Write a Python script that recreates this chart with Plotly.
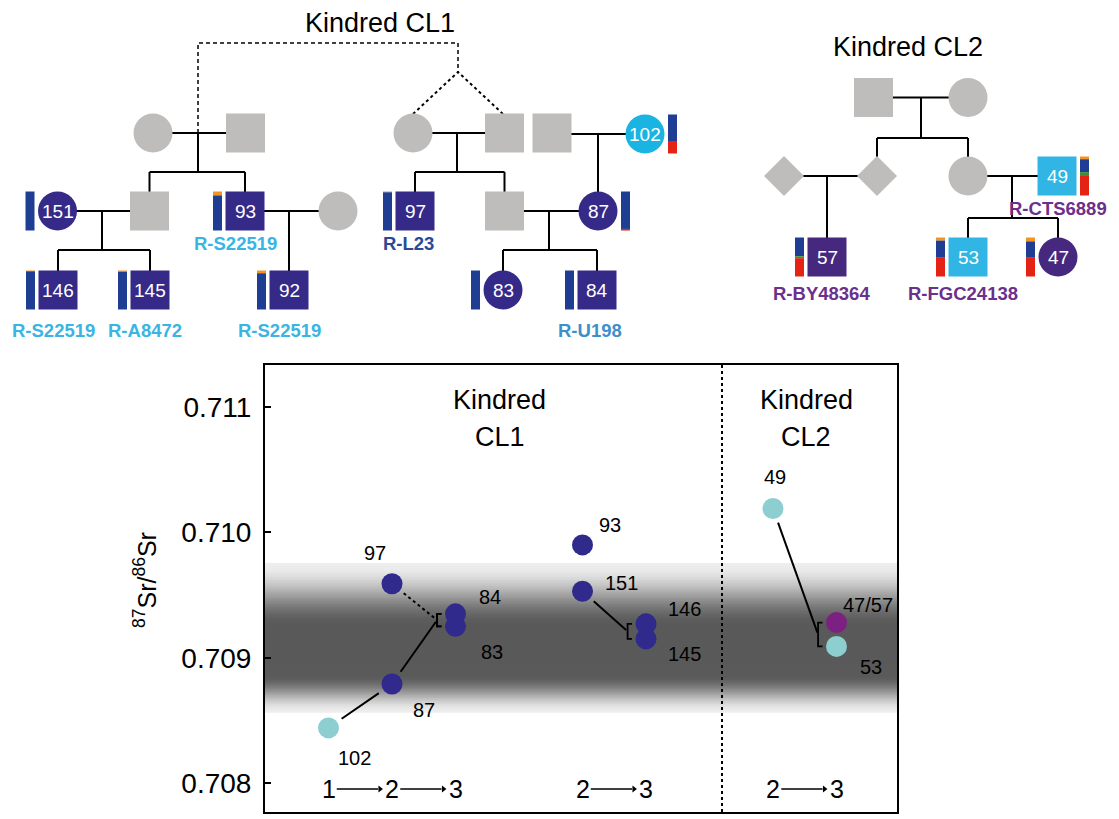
import math
import plotly.graph_objects as go

# page body has an 8px margin: figure pixel = screen pixel - OFF
OFF = 8
SW, SH = 1119, 819
W, H = SW - OFF, SH - OFF

# ---------------- data: 87Sr/86Sr ratios ----------------
sr_ids = ["102", "87", "97", "84", "83", "93", "151", "146", "145", "49", "47/57", "53"]
sr_group = [0, 0, 0, 0, 0, 1, 1, 1, 1, 2, 2, 2]
sr_generation = [1, 2, 2, 3, 3, 2, 2, 3, 3, 2, 3, 3]
sr_values = [0.70844, 0.70879, 0.70959, 0.70935, 0.70925, 0.70990,
             0.70953, 0.70927, 0.70915, 0.71019, 0.70928, 0.70909]
sr_class = ["pale", "cl1", "cl1", "cl1", "cl1", "cl1", "cl1", "cl1", "cl1", "pale", "cl2", "pale"]

# parent -> offspring links (offspring pairs are bracketed)
link_from = ["102", "87", "97", "151", "49"]
link_to = [["87"], ["84", "83"], ["84", "83"], ["146", "145"], ["47/57", "53"]]
link_dash = ["solid", "solid", "dot", "solid", "solid"]

# local bioavailable strontium band
band_low, band_core_low, band_core_high, band_high = 0.70856, 0.70886, 0.70926, 0.70975

y_ticks = [0.708, 0.709, 0.710, 0.711]
group_generations = [[1, 2, 3], [2, 3], [2, 3]]
kindred_titles = ["Kindred CL1", "Kindred CL2"]

# ---------------- data: pedigree ancestry / haplogroups ----------------
anc_ids = ["151", "146", "145", "93", "92", "97", "87", "83", "84", "102", "49", "57", "53", "47"]
anc_orange = [0.00, 0.02, 0.03, 0.10, 0.07, 0.02, 0.00, 0.00, 0.00, 0.00, 0.07, 0.00, 0.08, 0.10]
anc_blue = [1.00, 0.98, 0.97, 0.90, 0.93, 0.98, 0.96, 1.00, 1.00, 0.68, 0.33, 0.48, 0.44, 0.42]
anc_green = [0.00, 0.00, 0.00, 0.00, 0.00, 0.00, 0.00, 0.00, 0.00, 0.00, 0.10, 0.05, 0.00, 0.00]
anc_red = [0.00, 0.00, 0.00, 0.00, 0.00, 0.00, 0.04, 0.00, 0.00, 0.32, 0.50, 0.47, 0.48, 0.48]

hg_ids = ["93", "146", "145", "92", "97", "84", "49", "57", "53"]
hg_names = ["R-S22519", "R-S22519", "R-A8472", "R-S22519", "R-L23", "R-U198",
            "R-CTS6889", "R-BY48364", "R-FGC24138"]

# ---------------- styles ----------------
FONT = "Liberation Sans, Arial, Helvetica, sans-serif"
GRAY = "#bebdbb"
POINT_COL = {"cl1": "#2f2a8c", "pale": "#8dced1", "cl2": "#7c2082"}
NODE_COL = {"gray": GRAY, "p1": "#352a87", "p2": "#46297f", "cy": "#1ab4e2", "lb": "#30b5e4"}
ANC_COL = {"orange": "#f39322", "blue": "#1f3e93", "green": "#3f8f3a", "red": "#e42314"}
HG_COL = {"R-S22519": "#3ab5e3", "R-A8472": "#3ab5e3", "R-L23": "#2b4a95", "R-U198": "#3d8fcc",
          "R-CTS6889": "#6b2f8c", "R-BY48364": "#6b2f8c", "R-FGC24138": "#6b2f8c"}

# main plot geometry (screen pixels)
PX0, PX1, PY0, PY1 = 265, 897, 365, 812
X_UNIT = 63.5
XMAX = (PX1 - PX0) / X_UNIT
Y_PER = 125350.0
YMAX = 0.711 + (407 - PY0) / Y_PER
YMIN = YMAX - (PY1 - PY0) / Y_PER

fig = go.Figure()

# ---------------- band gradient ----------------
def smooth(t):
    t = min(max(t, 0.0), 1.0)
    return t * t * (3 - 2 * t)

N = 100
step = (band_high - band_low) / N
for k in range(N):
    lo = band_low + k * step
    mid = lo + step / 2
    if mid > band_core_high:
        t = (mid - band_core_high) / (band_high - band_core_high)
    elif mid < band_core_low:
        t = (band_core_low - mid) / (band_core_low - band_low)
    else:
        t = 0.0
    g = int(round(90 + (238 - 90) * smooth(t)))
    top = lo + step * (2.5 if k < N - 1 else 1.0)
    fig.add_shape(type="rect", xref="x", yref="y", x0=0, x1=XMAX, y0=lo, y1=top,
                  fillcolor=f"rgb({g},{g},{g})", line=dict(width=0), layer="below")

# ---------------- main scatter ----------------
sr_x = [3 * g + n for g, n in zip(sr_group, sr_generation)]
pos = {i: (x, v) for i, x, v in zip(sr_ids, sr_x, sr_values)}

def seg(x0, y0, x1, y1, g0, g1):
    dx, dy = (x1 - x0) * X_UNIT, (y1 - y0) * Y_PER
    L = math.hypot(dx, dy)
    ux, uy = dx / L, dy / L
    return ([x0 + ux * g0 / X_UNIT, x1 - ux * g1 / X_UNIT],
            [y0 + uy * g0 / Y_PER, y1 - uy * g1 / Y_PER])

BR_OFF = 0.29
for src, dst, dash in zip(link_from, link_to, link_dash):
    x0, y0 = pos[src]
    if len(dst) == 1:
        x1, y1 = pos[dst[0]]
        xs, ys = seg(x0, y0, x1, y1, 16, 16)
    else:
        xa, va = pos[dst[0]]
        xb_, vb = pos[dst[1]]
        bx = xa - BR_OFF
        mid = (va + vb) / 2
        xs, ys = seg(x0, y0, bx, mid, 15, 2)
        fig.add_trace(go.Scatter(x=[bx + 0.07, bx, bx, bx + 0.07],
                                 y=[max(va, vb), max(va, vb), min(va, vb), min(va, vb)],
                                 mode="lines", line=dict(color="black", width=1.8),
                                 hoverinfo="skip", showlegend=False))
    fig.add_trace(go.Scatter(x=xs, y=ys, mode="lines", line=dict(color="black", width=2, dash=dash),
                             hoverinfo="skip", showlegend=False))

fig.add_trace(go.Scatter(x=sr_x, y=sr_values, mode="markers",
                         marker=dict(size=21, color=[POINT_COL[c] for c in sr_class], line=dict(width=0)),
                         text=sr_ids, hoverinfo="text", showlegend=False))

label_shift = {"102": (26, -30), "87": (32, -26), "97": (-17, 31), "84": (34, 17), "83": (36, -26),
               "93": (27, 20), "151": (39, 8), "146": (38, 15), "145": (38, -15),
               "49": (2, 32), "47/57": (31, 18), "53": (34, -21)}
for i, x, v in zip(sr_ids, sr_x, sr_values):
    dx, dy = label_shift[i]
    fig.add_annotation(x=x, y=v, xref="x", yref="y", text=i, showarrow=False,
                       xshift=dx, yshift=dy, font=dict(size=20, color="black", family=FONT))

# divider between kindreds
fig.add_shape(type="line", xref="x", yref="y domain", x0=7.197, x1=7.197, y0=0, y1=1,
              line=dict(color="black", width=2, dash="dot"))

# kindred titles inside the plot
for title, cx in zip(kindred_titles, [3.70, 8.52]):
    w1, w2 = title.split(" ")
    fig.add_annotation(x=cx, y=0.711 + 7 / Y_PER, xref="x", yref="y", text=w1, showarrow=False,
                       font=dict(size=27, color="black", family=FONT))
    fig.add_annotation(x=cx, y=0.711 - 30 / Y_PER, xref="x", yref="y", text=w2, showarrow=False,
                       font=dict(size=27, color="black", family=FONT))

# generation labels with arrows
GEN_Y = 0.708 - 6 / Y_PER
ax_x, ax_y, head_x, head_y = [], [], [], []
for g, gens in enumerate(group_generations):
    for j, n in enumerate(gens):
        xg = 3 * g + n
        fig.add_annotation(x=xg, y=GEN_Y, xref="x", yref="y", text=str(n), showarrow=False,
                           font=dict(size=25, color="black", family=FONT))
        if j + 1 < len(gens):
            xn = 3 * g + gens[j + 1]
            ax_x += [xg + 0.13, xn - 0.22, None]
            ax_y += [GEN_Y, GEN_Y, None]
            head_x.append(xn - 0.19)
            head_y.append(GEN_Y)
fig.add_trace(go.Scatter(x=ax_x, y=ax_y, mode="lines", line=dict(color="black", width=1.4),
                         hoverinfo="skip", showlegend=False))
fig.add_trace(go.Scatter(x=head_x, y=head_y, mode="markers",
                         marker=dict(symbol="triangle-right", size=6, color="black", line=dict(width=0)),
                         hoverinfo="skip", showlegend=False))

# y axis title
fig.add_annotation(x=(145 - OFF) / W, y=1 - (580 - OFF) / H, xref="paper", yref="paper",
                   xanchor="center", yanchor="middle",
                   text="<sup>87</sup>Sr/<sup>86</sup>Sr", textangle=-90, showarrow=False,
                   font=dict(size=25, color="black", family=FONT))

# ---------------- pedigree (screen-pixel canvas on x2/y2) ----------------
R = 19.5
nodes = {
    # Kindred CL1
    "a1": (153, 133, "circle", "gray", ""), "a2": (245.5, 133, "square", "gray", ""),
    "a3": (413, 133, "circle", "gray", ""), "a4": (504.5, 133, "square", "gray", ""),
    "a5": (552, 133, "square", "gray", ""), "102": (645, 134, "circle", "cy", "102"),
    "151": (57.5, 211, "circle", "p1", "151"), "b1": (149.5, 211, "square", "gray", ""),
    "93": (245, 211, "square", "p1", "93"), "b2": (338, 211, "circle", "gray", ""),
    "97": (415, 211, "square", "p1", "97"), "b3": (504.5, 211, "square", "gray", ""),
    "87": (598, 211, "circle", "p1", "87"),
    "146": (58, 290, "square", "p1", "146"), "145": (150, 290, "square", "p1", "145"),
    "92": (289, 290, "square", "p1", "92"), "83": (503, 290, "circle", "p1", "83"),
    "84": (597, 290, "square", "p1", "84"),
    # Kindred CL2
    "c1": (873.5, 97.5, "square", "gray", ""), "c2": (968, 97.5, "circle", "gray", ""),
    "c3": (784, 176, "diamond", "gray", ""), "c4": (877, 176, "diamond", "gray", ""),
    "c5": (968, 176, "circle", "gray", ""), "49": (1057, 176, "square", "lb", "49"),
    "57": (827, 257, "square", "p2", "57"), "53": (968, 257, "square", "lb", "53"),
    "47": (1058, 257, "circle", "p2", "47"),
}
bar_right = {"102", "87", "49"}

solid_lines = [
    [(153, 133), (245.5, 133)], [(198, 133), (198, 172)], [(149.5, 172), (245, 172)],
    [(149.5, 172), (149.5, 211)], [(245, 172), (245, 211)],
    [(57.5, 211), (149.5, 211)], [(102, 211), (102, 250)], [(58, 250), (150, 250)],
    [(58, 250), (58, 290)], [(150, 250), (150, 290)],
    [(245, 211), (338, 211)], [(289, 211), (289, 290)],
    [(413, 133), (504.5, 133)], [(457, 133), (457, 172)], [(415, 172), (504.5, 172)],
    [(415, 172), (415, 211)], [(504.5, 172), (504.5, 211)],
    [(552, 134), (645, 134)], [(598, 134), (598, 211)],
    [(504.5, 211), (598, 211)], [(549, 211), (549, 250)], [(503, 250), (597, 250)],
    [(503, 250), (503, 290)], [(597, 250), (597, 290)],
    [(873.5, 97.5), (968, 97.5)], [(921, 97.5), (921, 138)], [(877, 138), (968, 138)],
    [(877, 138), (877, 176)], [(968, 138), (968, 176)],
    [(784, 176), (877, 176)], [(827, 176), (827, 257)],
    [(968, 176), (1057, 176)], [(1012, 176), (1012, 218)], [(968, 218), (1058, 218)],
    [(968, 218), (968, 257)], [(1058, 218), (1058, 257)],
]
dashed_lines = [[(198, 133), (198, 43), (458, 43), (458, 72)]]
dotted_lines = [[(413, 114), (458, 72), (503, 114)]]

def line_trace(lines, dash, width):
    xs, ys = [], []
    for ln in lines:
        for (px, py) in ln:
            xs.append(px)
            ys.append(py)
        xs.append(None)
        ys.append(None)
    return go.Scatter(x=xs, y=ys, xaxis="x2", yaxis="y2", mode="lines",
                      line=dict(color="black", width=width, dash=dash),
                      hoverinfo="skip", showlegend=False)

fig.add_trace(line_trace(solid_lines, "solid", 2))
fig.add_trace(line_trace(dashed_lines, "4px,3px", 1.5))
fig.add_trace(line_trace(dotted_lines, "dot", 2))

for key, (cx, cy, shp, col, txt) in nodes.items():
    fc = NODE_COL[col]
    if shp == "square":
        fig.add_shape(type="rect", xref="x2", yref="y2", x0=cx - R, x1=cx + R, y0=cy - R, y1=cy + R,
                      fillcolor=fc, line=dict(width=0), layer="above")
    elif shp == "circle":
        fig.add_shape(type="circle", xref="x2", yref="y2", x0=cx - R, x1=cx + R, y0=cy - R, y1=cy + R,
                      fillcolor=fc, line=dict(width=0), layer="above")
    else:
        d = 20
        fig.add_shape(type="path", xref="x2", yref="y2",
                      path=f"M {cx - d} {cy} L {cx} {cy - d} L {cx + d} {cy} L {cx} {cy + d} Z",
                      fillcolor=fc, line=dict(width=0), layer="above")
    if txt:
        fig.add_annotation(x=cx, y=cy, xref="x2", yref="y2", text=txt, showarrow=False,
                           font=dict(size=19, color="white", family=FONT))

# ancestry bars
BW, GAP = 9, 3.5
for i, o, b, g, r in zip(anc_ids, anc_orange, anc_blue, anc_green, anc_red):
    cx, cy = nodes[i][0], nodes[i][1]
    x0 = cx + R + GAP if i in bar_right else cx - R - GAP - BW
    top = cy - R
    tot = o + b + g + r
    for frac, cname in [(o, "orange"), (b, "blue"), (g, "green"), (r, "red")]:
        if frac <= 0:
            continue
        h = 2 * R * frac / tot
        fig.add_shape(type="rect", xref="x2", yref="y2", x0=x0, x1=x0 + BW, y0=top, y1=top + h,
                      fillcolor=ANC_COL[cname], line=dict(width=0), layer="above")
        top += h

# haplogroup labels
hg_pos = {"93": (235, 243), "146": (53, 330), "145": (145, 330), "92": (279, 330),
          "97": (408, 243), "84": (590, 330), "49": (1058, 208), "57": (821, 293), "53": (963, 293)}
for i, name in zip(hg_ids, hg_names):
    lx, ly = hg_pos[i]
    fig.add_annotation(x=lx, y=ly, xref="x2", yref="y2", text=f"<b>{name}</b>", showarrow=False,
                       font=dict(size=18.5, color=HG_COL[name], family=FONT))

# pedigree titles
for title, (tx, ty) in zip(kindred_titles, [(380, 23), (908, 47)]):
    fig.add_annotation(x=tx, y=ty, xref="x2", yref="y2", text=title, showarrow=False,
                       font=dict(size=27, color="black", family=FONT))

# ---------------- layout ----------------
fig.update_layout(
    width=W, height=H, autosize=False,
    margin=dict(l=0, r=0, t=0, b=0),
    paper_bgcolor="white", plot_bgcolor="rgba(0,0,0,0)",
    font=dict(family=FONT, color="black"),
    showlegend=False,
    xaxis=dict(domain=[(PX0 - OFF) / W, (PX1 - OFF) / W], range=[0, XMAX], showgrid=False, zeroline=False,
               showticklabels=False, ticks="", showline=True, mirror=True,
               linecolor="black", linewidth=2, fixedrange=True),
    yaxis=dict(domain=[1 - (PY1 - OFF) / H, 1 - (PY0 - OFF) / H], range=[YMIN, YMAX],
               showgrid=False, zeroline=False,
               tickvals=y_ticks, ticktext=[f"{t:.3f}" for t in y_ticks], ticks="inside",
               ticklen=6, tickwidth=2, tickcolor="black", showline=True, mirror=True,
               linecolor="black", linewidth=2, ticklabelstandoff=6,
               tickfont=dict(size=28, color="black", family=FONT), fixedrange=True),
    xaxis2=dict(domain=[0, 1], range=[OFF, SW], anchor="y2", visible=False, fixedrange=True),
    yaxis2=dict(domain=[0, 1], range=[SH, OFF], anchor="x2", visible=False, fixedrange=True),
)

fig.write_html("out.html")
